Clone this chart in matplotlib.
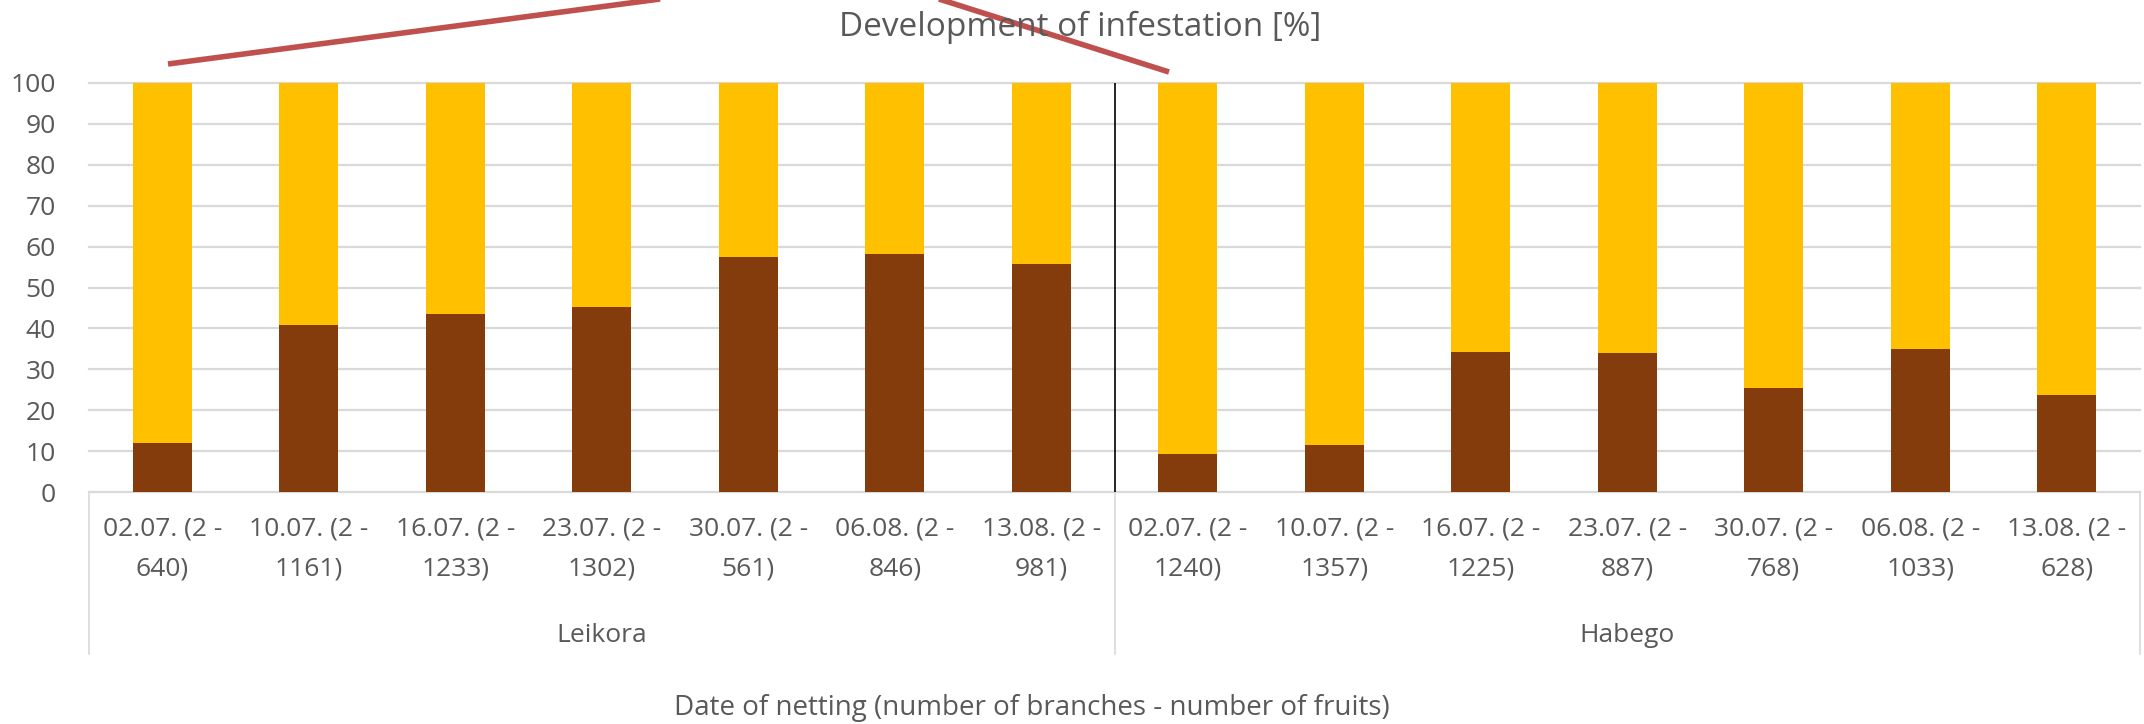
import matplotlib.pyplot as plt
import matplotlib.transforms as mtransforms
from matplotlib.lines import Line2D

# data
dates = ["02.07.", "10.07.", "16.07.", "23.07.", "30.07.", "06.08.", "13.08."]
leikora_fruits = [640, 1161, 1233, 1302, 561, 846, 981]
habego_fruits = [1240, 1357, 1225, 887, 768, 1033, 628]
branches = 2
leikora_infested = [11.9, 40.8, 43.5, 45.3, 57.5, 58.2, 55.8]
habego_infested = [9.4, 11.6, 34.3, 33.9, 25.4, 35.0, 23.7]
groups = ["Leikora", "Habego"]

infested = leikora_infested + habego_infested
healthy = [100 - v for v in infested]
labels = [f"{d} ({branches} -\n{n})" for d, n in zip(dates, leikora_fruits)]
labels += [f"{d} ({branches} -\n{n})" for d, n in zip(dates, habego_fruits)]

plt.rcParams["font.family"] = ["Open Sans", "DejaVu Sans"]
text_col = "#595959"
grid_col = "#D9D9D9"

fig = plt.figure(figsize=(21.44, 7.24), dpi=100)
ax = fig.add_axes([89 / 2144, 1 - 492 / 724, (2140 - 89) / 2144, (492 - 83) / 724])

x = list(range(len(infested)))
ax.bar(x, infested, width=0.4, color="#843C0C", zorder=3)
ax.bar(x, healthy, width=0.4, bottom=infested, color="#FFC000", zorder=3)

ax.set_xlim(-0.5, len(x) - 0.5)
ax.set_ylim(0, 100)
ax.set_yticks(range(0, 101, 10))
for v in range(0, 101, 10):
    ax.axhline(v, color=grid_col, lw=1.6, zorder=1, clip_on=False)

for s in ax.spines.values():
    s.set_visible(False)

ax.tick_params(axis="y", length=0, pad=24, labelsize=19, labelcolor=text_col)
ax.set_xticks(x)
ax.set_xticklabels(labels, fontsize=19, color=text_col, linespacing=1.75)
ax.tick_params(axis="x", length=0, pad=18)

# separator between varieties
ax.axvline(6.5, color="black", lw=1.2, zorder=4)

# multi-level category axis lines
trans = mtransforms.blended_transform_factory(ax.transData, ax.transAxes)
for xv in [-0.5, 6.5, 13.5]:
    ax.add_line(Line2D([xv, xv], [0, -0.395], transform=trans, color=grid_col,
                       lw=1.2, clip_on=False))
for i, g in enumerate(groups):
    ax.text(3 + 7 * i, -0.35, g, transform=trans, ha="center", va="center",
            fontsize=19, color=text_col)

fig.text(1032 / 2144, 1 - 708 / 724, "Date of netting (number of branches - number of fruits)",
         ha="center", va="center", fontsize=20, color=text_col)
fig.text(1080 / 2144, 1 - 27 / 724, "Development of infestation [%]",
         ha="center", va="center", fontsize=24, color=text_col)

# red stroke drawn over the chart
red_x = [168, 857, 1169]
red_y = [64, -27, 72]
fig.add_artist(Line2D([v / 2144 for v in red_x], [1 - v / 724 for v in red_y],
                      transform=fig.transFigure, color="#C0504D", lw=4,
                      solid_capstyle="butt"))

fig.savefig("out.png", dpi=100)
